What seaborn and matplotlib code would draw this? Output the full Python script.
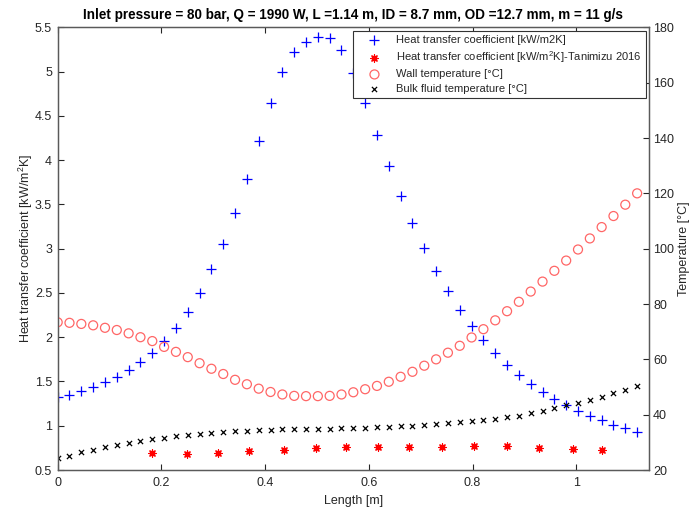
import matplotlib
matplotlib.use("Agg")
import matplotlib.pyplot as plt
import seaborn as sns

# positions along the tube [m]
LENGTH = [0.0000, 0.0228, 0.0456, 0.0684, 0.0912, 0.1140, 0.1368, 0.1596, 0.1824, 0.2052,
          0.2280, 0.2508, 0.2736, 0.2964, 0.3192, 0.3420, 0.3648, 0.3876, 0.4104, 0.4332,
          0.4560, 0.4788, 0.5016, 0.5244, 0.5472, 0.5700, 0.5928, 0.6156, 0.6384, 0.6612,
          0.6840, 0.7068, 0.7296, 0.7524, 0.7752, 0.7980, 0.8208, 0.8436, 0.8664, 0.8892,
          0.9120, 0.9348, 0.9576, 0.9804, 1.0032, 1.0260, 1.0488, 1.0716, 1.0944, 1.1172]

# heat transfer coefficient [kW/m2K]
HTC = [1.32, 1.35, 1.39, 1.44, 1.49, 1.55, 1.63, 1.72, 1.82, 1.96,
       2.10, 2.28, 2.50, 2.77, 3.05, 3.40, 3.79, 4.22, 4.64, 4.99,
       5.22, 5.33, 5.39, 5.38, 5.24, 4.98, 4.64, 4.28, 3.93, 3.59,
       3.29, 3.01, 2.75, 2.52, 2.31, 2.13, 1.97, 1.82, 1.69, 1.57,
       1.47, 1.38, 1.30, 1.23, 1.17, 1.11, 1.06, 1.01, 0.97, 0.93]

# wall temperature [degC]
WALL_T = [73.4, 73.2, 72.8, 72.3, 71.4, 70.6, 69.4, 68.0, 66.6, 64.5,
          62.7, 60.8, 58.6, 56.6, 54.7, 52.6, 51.0, 49.4, 48.2, 47.3,
          46.8, 46.7, 46.7, 46.8, 47.3, 48.1, 49.2, 50.4, 51.9, 53.7,
          55.5, 57.7, 60.0, 62.4, 64.9, 67.9, 70.9, 74.1, 77.4, 80.8,
          84.5, 88.1, 92.0, 95.7, 99.7, 103.7, 107.8, 111.8, 115.9, 120.0]

# bulk fluid temperature [degC]
BULK_T = [24.2, 25.2, 26.4, 27.2, 28.2, 29.0, 29.8, 30.5, 31.1, 31.7,
          32.2, 32.6, 33.1, 33.5, 33.8, 34.0, 34.2, 34.4, 34.4, 34.7,
          34.7, 34.8, 34.8, 34.9, 35.1, 35.2, 35.3, 35.4, 35.5, 35.8,
          36.0, 36.3, 36.5, 36.9, 37.2, 37.6, 38.1, 38.5, 39.0, 39.7,
          40.5, 41.3, 42.3, 43.4, 44.1, 45.3, 46.5, 47.7, 49.0, 50.4]

# Tanimizu 2016 correlation
TANIMIZU_X = [0.1815, 0.2496, 0.3094, 0.3694, 0.4355, 0.4973, 0.5560, 0.6174,
              0.6769, 0.7419, 0.8031, 0.8655, 0.9286, 0.9935, 1.0502]
TANIMIZU_HTC = [0.688, 0.681, 0.695, 0.718, 0.722, 0.745, 0.760, 0.762,
                0.760, 0.763, 0.767, 0.767, 0.752, 0.740, 0.726]

X_TICKS = [0, 0.2, 0.4, 0.6, 0.8, 1.0]
X_TICK_LABELS = ["0", "0.2", "0.4", "0.6", "0.8", "1"]
HTC_TICKS = [0.5, 1, 1.5, 2, 2.5, 3, 3.5, 4, 4.5, 5, 5.5]
HTC_TICK_LABELS = ["0.5", "1", "1.5", "2", "2.5", "3", "3.5", "4", "4.5", "5", "5.5"]
T_TICKS = [20, 40, 60, 80, 100, 120, 140, 160, 180]

TITLE = ("Inlet pressure = 80 bar, Q = 1990 W, L =1.14 m, ID = 8.7 mm, "
         "OD =12.7 mm, m = 11 g/s")

sns.set_theme(style="white")
plt.rcParams["font.family"] = ["Liberation Sans", "DejaVu Sans"]
plt.rcParams["mathtext.fontset"] = "custom"
plt.rcParams["mathtext.rm"] = "Liberation Sans"
plt.rcParams["mathtext.it"] = "Liberation Sans:italic"
plt.rcParams["mathtext.bf"] = "Liberation Sans:bold"

INK = "#262626"
SPINE = "#5a5a5a"

fig = plt.figure(figsize=(6.94, 5.09), dpi=100)
ax = fig.add_axes([0.0831, 0.0766, 0.852, 0.8697])
ax2 = ax.twinx()

sns.scatterplot(x=LENGTH, y=HTC, marker="+", color="#0000FF", s=42, linewidth=0.9,
                label="Heat transfer coefficient [kW/m2K]", ax=ax, zorder=3)
sns.scatterplot(x=TANIMIZU_X, y=TANIMIZU_HTC, marker=(8, 2, 0), color="#FF0000", s=26,
                linewidth=0.9, label=r"Heat transfer coefficient [kW/m$^2$K]-Tanimizu 2016",
                ax=ax, zorder=3)
sns.scatterplot(x=LENGTH, y=WALL_T, marker="o", facecolor="none", edgecolor="#FF6666",
                s=42, linewidth=0.9, label="Wall temperature [°C]", ax=ax2)
sns.scatterplot(x=LENGTH, y=BULK_T, marker="x", color="#000000", s=14, linewidth=0.9,
                label="Bulk fluid temperature [°C]", ax=ax2)

ax.set_xlim(0, 1.14)
ax.set_ylim(0.5, 5.5)
ax2.set_ylim(20, 180)
ax.set_xticks(X_TICKS, X_TICK_LABELS)
ax.set_yticks(HTC_TICKS, HTC_TICK_LABELS)
ax2.set_yticks(T_TICKS)

for a in (ax, ax2):
    for sp in a.spines.values():
        sp.set_color(SPINE)
        sp.set_linewidth(0.9)
ax.tick_params(axis="x", direction="in", length=4, width=0.8, color=INK, top=True,
               bottom=True, labelsize=9, labelcolor=INK, pad=5)
ax.tick_params(axis="y", direction="in", length=4, width=0.8, color=INK, left=True,
               right=False, labelsize=9, labelcolor=INK, pad=4)
ax2.tick_params(axis="y", direction="in", length=4, width=0.8, color=INK, right=True,
                left=False, labelsize=9, labelcolor=INK, pad=3)

ax.set_xlabel("Length [m]", fontsize=9, color=INK, labelpad=4)
ax.set_ylabel(r"Heat transfer coefficient [kW/m$^2$K]", fontsize=9, color=INK, labelpad=0)
ax2.set_ylabel("Temperature [°C]", fontsize=9, color=INK, labelpad=3)
ax.set_title(TITLE, fontsize=9.75, fontweight="bold", color="black", pad=6)

# one legend for both axes, drawn on the twin so it sits above everything
h1, l1 = ax.get_legend_handles_labels()
h2, l2 = ax2.get_legend_handles_labels()
if ax.get_legend() is not None:
    ax.get_legend().remove()
leg = ax2.legend(h1 + h2, l1 + l2, loc="upper right", bbox_to_anchor=(1.0, 1.0),
                 fontsize=8, frameon=True, fancybox=False, framealpha=1,
                 edgecolor="#333333", borderpad=0.4, borderaxespad=0.3,
                 handlelength=3.0, handletextpad=0.4, labelspacing=0.38,
                 scatterpoints=1)
leg.get_frame().set_linewidth(0.8)

fig.savefig("out.png", dpi=100)
